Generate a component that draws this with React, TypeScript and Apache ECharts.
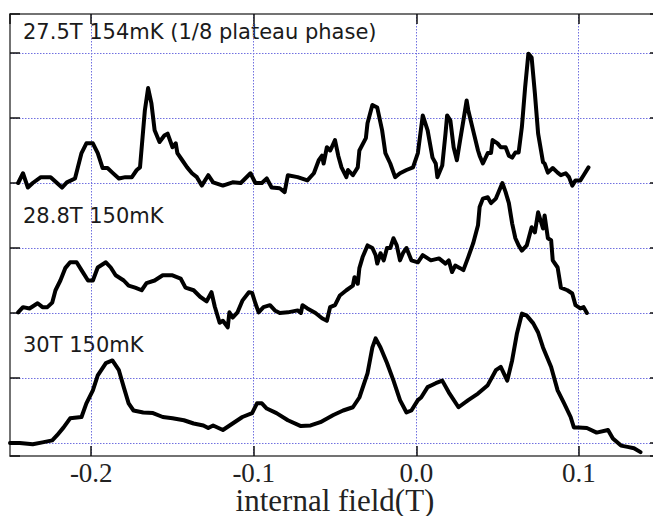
import React, { useEffect, useRef } from "react";
import * as echarts from "echarts";

// Spectrum labels (inside the plot)
const spectrumLabels = ["27.5T 154mK (1/8 plateau phase)", "28.8T 150mK", "30T 150mK"];
const xAxisTitle = "internal field(T)";

// x axis: internal field (T); y: intensity (arb. units, spectra offset)
const xMin = -0.25;
const xMax = 0.15;
const yMin = -0.2;
const yMax = 6.6;

// 27.5 T, 154 mK (offset 4)
const spec275: [number, number][] = [
  [-0.245, 4.0], [-0.242, 4.15], [-0.239, 3.93], [-0.236, 4.0], [-0.231, 4.09], [-0.225, 4.09],
  [-0.218, 3.93], [-0.215, 4.01], [-0.21, 4.07], [-0.206, 4.46], [-0.203, 4.61], [-0.199, 4.61],
  [-0.196, 4.46], [-0.193, 4.23], [-0.19, 4.23], [-0.187, 4.16], [-0.183, 4.07], [-0.179, 4.09],
  [-0.175, 4.09], [-0.172, 4.2], [-0.17, 4.24], [-0.167, 5.12], [-0.165, 5.46], [-0.163, 5.23],
  [-0.161, 4.81], [-0.158, 4.63], [-0.155, 4.73], [-0.153, 4.76], [-0.15, 4.55], [-0.148, 4.61],
  [-0.147, 4.46], [-0.144, 4.35], [-0.141, 4.24], [-0.138, 4.15], [-0.135, 4.09], [-0.132, 3.96],
  [-0.128, 4.12], [-0.125, 4.01], [-0.119, 3.96], [-0.113, 4.01], [-0.108, 4.0], [-0.102, 4.15],
  [-0.099, 4.0], [-0.095, 4.0], [-0.092, 4.07], [-0.089, 3.93], [-0.084, 3.92], [-0.081, 3.86],
  [-0.079, 4.12], [-0.073, 4.09], [-0.067, 4.04], [-0.063, 4.15], [-0.06, 4.35], [-0.058, 4.42],
  [-0.057, 4.3], [-0.055, 4.55], [-0.053, 4.5], [-0.052, 4.55], [-0.05, 4.66], [-0.048, 4.42],
  [-0.046, 4.24], [-0.043, 4.09], [-0.042, 4.2], [-0.039, 4.12], [-0.036, 4.24], [-0.035, 4.5],
  [-0.031, 4.69], [-0.03, 4.92], [-0.027, 5.2], [-0.024, 5.16], [-0.021, 4.81], [-0.019, 4.46],
  [-0.016, 4.3], [-0.013, 4.09], [-0.01, 4.15], [-0.006, 4.2], [-0.002, 4.24], [0.001, 4.46],
  [0.004, 5.04], [0.007, 4.81], [0.01, 4.39], [0.012, 4.3], [0.013, 4.09], [0.016, 4.27],
  [0.018, 4.76], [0.019, 5.04], [0.021, 4.96], [0.023, 4.55], [0.025, 4.35], [0.027, 4.66],
  [0.029, 4.96], [0.031, 5.27], [0.032, 5.12], [0.035, 4.81], [0.038, 4.5], [0.039, 4.42],
  [0.041, 4.3], [0.044, 4.46], [0.046, 4.46], [0.047, 4.66], [0.05, 4.61], [0.052, 4.55],
  [0.055, 4.55], [0.057, 4.42], [0.059, 4.39], [0.061, 4.47], [0.063, 4.47], [0.065, 4.86],
  [0.067, 5.47], [0.069, 5.99], [0.071, 5.93], [0.073, 5.38], [0.075, 4.76], [0.078, 4.32],
  [0.079, 4.3], [0.081, 4.16], [0.084, 4.23], [0.087, 4.16], [0.089, 4.12], [0.092, 4.15],
  [0.094, 4.09], [0.096, 3.96], [0.098, 4.04], [0.101, 4.04], [0.103, 4.12], [0.106, 4.24],
];

// 28.8 T, 150 mK (offset 2)
const spec288: [number, number][] = [
  [-0.245, 2.01], [-0.242, 2.09], [-0.238, 2.07], [-0.233, 2.15], [-0.23, 2.09], [-0.227, 2.09],
  [-0.224, 2.16], [-0.222, 2.35], [-0.219, 2.5], [-0.216, 2.69], [-0.213, 2.78], [-0.209, 2.78],
  [-0.206, 2.66], [-0.202, 2.5], [-0.199, 2.5], [-0.196, 2.7], [-0.191, 2.78], [-0.188, 2.7],
  [-0.185, 2.58], [-0.18, 2.5], [-0.177, 2.42], [-0.173, 2.39], [-0.169, 2.35], [-0.166, 2.46],
  [-0.161, 2.5], [-0.156, 2.58], [-0.15, 2.58], [-0.145, 2.53], [-0.142, 2.39], [-0.137, 2.35],
  [-0.133, 2.25], [-0.129, 2.18], [-0.126, 2.32], [-0.124, 2.1], [-0.121, 1.85], [-0.119, 1.88],
  [-0.116, 1.78], [-0.115, 2.01], [-0.113, 1.93], [-0.11, 2.01], [-0.107, 2.19], [-0.103, 2.32],
  [-0.101, 2.31], [-0.099, 2.15], [-0.097, 2.01], [-0.094, 2.09], [-0.09, 2.12], [-0.087, 2.04],
  [-0.084, 2.0], [-0.079, 2.01], [-0.073, 2.04], [-0.071, 2.0], [-0.07, 2.12], [-0.067, 2.07],
  [-0.062, 2.0], [-0.058, 1.92], [-0.055, 1.88], [-0.053, 2.09], [-0.05, 2.12], [-0.047, 2.27],
  [-0.043, 2.35], [-0.039, 2.42], [-0.038, 2.55], [-0.036, 2.45], [-0.035, 2.69], [-0.033, 2.86],
  [-0.03, 3.04], [-0.027, 3.0], [-0.025, 2.89], [-0.024, 2.76], [-0.022, 2.92], [-0.02, 2.81],
  [-0.018, 3.0], [-0.016, 3.0], [-0.014, 3.15], [-0.012, 3.04], [-0.01, 2.81], [-0.008, 2.93],
  [-0.006, 3.0], [-0.003, 2.81], [0.001, 2.78], [0.004, 2.89], [0.009, 2.81], [0.014, 2.84],
  [0.018, 2.76], [0.02, 2.81], [0.022, 2.63], [0.024, 2.73], [0.027, 2.69], [0.029, 2.66],
  [0.032, 2.86], [0.035, 3.07], [0.038, 3.35], [0.039, 3.63], [0.041, 3.76], [0.044, 3.78],
  [0.046, 3.69], [0.049, 3.76], [0.051, 3.88], [0.053, 4.0], [0.055, 3.86], [0.057, 3.69],
  [0.059, 3.38], [0.061, 3.15], [0.063, 3.04], [0.065, 2.96], [0.068, 3.04], [0.071, 3.32],
  [0.073, 3.24], [0.075, 3.55], [0.078, 3.3], [0.079, 3.5], [0.081, 3.15], [0.083, 3.12],
  [0.084, 2.81], [0.087, 2.7], [0.089, 2.39], [0.093, 2.35], [0.096, 2.3], [0.098, 2.12],
  [0.101, 2.07], [0.103, 2.09], [0.105, 2.0],
];

// 30 T, 150 mK (offset 0)
const spec30: [number, number][] = [
  [-0.25, 0.0], [-0.244, 0.0], [-0.236, -0.02], [-0.23, 0.01], [-0.224, 0.04], [-0.221, 0.12],
  [-0.217, 0.24], [-0.213, 0.38], [-0.206, 0.4], [-0.203, 0.61], [-0.199, 0.81], [-0.196, 1.04],
  [-0.191, 1.23], [-0.187, 1.27], [-0.183, 1.12], [-0.18, 0.86], [-0.177, 0.61], [-0.174, 0.5],
  [-0.168, 0.47], [-0.162, 0.46], [-0.156, 0.4], [-0.15, 0.38], [-0.143, 0.35], [-0.137, 0.3],
  [-0.131, 0.27], [-0.128, 0.23], [-0.125, 0.27], [-0.119, 0.2], [-0.113, 0.3], [-0.107, 0.4],
  [-0.101, 0.46], [-0.098, 0.61], [-0.095, 0.61], [-0.092, 0.53], [-0.086, 0.46], [-0.079, 0.35],
  [-0.071, 0.26], [-0.065, 0.27], [-0.059, 0.32], [-0.051, 0.43], [-0.045, 0.5], [-0.039, 0.55],
  [-0.035, 0.7], [-0.03, 1.07], [-0.027, 1.47], [-0.025, 1.61], [-0.022, 1.47], [-0.018, 1.23],
  [-0.014, 0.96], [-0.01, 0.66], [-0.006, 0.47], [-0.003, 0.5], [0.001, 0.66], [0.003, 0.7],
  [0.007, 0.86], [0.012, 0.92], [0.016, 0.96], [0.02, 0.78], [0.026, 0.55], [0.032, 0.66],
  [0.038, 0.76], [0.044, 0.89], [0.049, 1.12], [0.052, 1.17], [0.056, 0.96], [0.059, 1.27],
  [0.062, 1.69], [0.065, 1.99], [0.068, 1.96], [0.072, 1.84], [0.075, 1.7], [0.078, 1.47],
  [0.083, 1.17], [0.087, 0.81], [0.091, 0.61], [0.095, 0.4], [0.097, 0.24], [0.1, 0.24],
  [0.105, 0.23], [0.111, 0.16], [0.118, 0.2], [0.121, 0.07], [0.126, -0.04], [0.13, -0.06],
  [0.134, -0.08], [0.138, -0.14],
];

const labelY = [32, 216, 345];

export default function App() {
  const ref = useRef<HTMLDivElement>(null);
  useEffect(() => {
    const chart = echarts.init(ref.current!, null, { renderer: "svg" });
    const axisLine = { show: true, onZero: false, lineStyle: { color: "#444", width: 1.5 } };
    const tick = { show: true, inside: true, length: 10, lineStyle: { color: "#111", width: 1.5 } };
    const grid = {
      show: true,
      lineStyle: { color: "#7070e0", width: 1, type: [1.5, 1.5] as any },
      showMinLine: false,
      showMaxLine: false,
    };
    const lineSeries = (data: [number, number][]) => ({
      type: "line",
      data,
      showSymbol: false,
      symbol: "none",
      smooth: false,
      lineStyle: { color: "#000", width: 4, join: "round", cap: "round" },
      silent: true,
    });
    chart.setOption({
      animation: false,
      backgroundColor: "#fff",
      grid: { left: 10, top: 14, width: 650, height: 442, outerBoundsMode: "none", containLabel: false },
      xAxis: [
        {
          type: "value",
          min: xMin,
          max: xMax,
          splitNumber: 4,
          position: "bottom",
          axisLine,
          axisTick: tick,
          splitLine: grid,
          axisLabel: {
            show: true,
            showMinLabel: false,
            showMaxLabel: false,
            margin: 7,
            lineHeight: 20,
            formatter: (v: number) => v.toFixed(1),
            fontFamily: "Liberation Serif",
            fontSize: 27,
            color: "#222",
          },
          name: xAxisTitle,
          nameLocation: "middle",
          nameGap: 32,
          nameMoveOverlap: false,
          nameTextStyle: { fontFamily: "Liberation Serif", fontSize: 31, lineHeight: 24, color: "#222" },
        },
        {
          type: "value",
          min: xMin,
          max: xMax,
          splitNumber: 4,
          position: "top",
          axisLine,
          axisTick: tick,
          splitLine: { show: false },
          axisLabel: { show: false },
        },
      ],
      yAxis: [
        {
          type: "value",
          min: yMin,
          max: yMax,
          splitNumber: 7,
          position: "left",
          axisLine,
          axisTick: tick,
          splitLine: grid,
          axisLabel: { show: false },
        },
        {
          type: "value",
          min: yMin,
          max: yMax,
          splitNumber: 7,
          position: "right",
          axisLine,
          axisTick: tick,
          splitLine: { show: false },
          axisLabel: { show: false },
        },
      ],
      series: [lineSeries(spec275), lineSeries(spec288), lineSeries(spec30)],
      graphic: spectrumLabels.map((t, i) => ({
        type: "text",
        x: 23,
        y: labelY[i],
        silent: true,
        style: {
          text: t,
          font: '21px "DejaVu Sans"',
          fill: "#1a1a1a",
          verticalAlign: "middle",
        },
      })),
    });
    return () => chart.dispose();
  }, []);
  return (
    <div
      ref={ref}
      style={{ position: "fixed", left: 0, top: 0, width: 653, height: 516, background: "#fff" }}
    />
  );
}
